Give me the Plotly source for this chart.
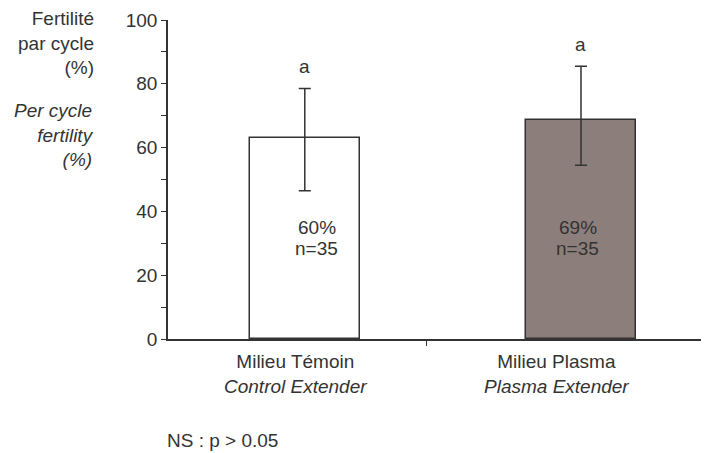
import plotly.graph_objects as go

# ---- data ----
categories = ["Milieu Témoin", "Milieu Plasma"]
categories_en = ["Control Extender", "Plasma Extender"]
fertility = [62.9, 68.6]          # bar heights (%)
err_plus = [15.6, 16.9]
err_minus = [16.4, 14.1]
pct_labels = ["60%", "69%"]
n_labels = ["n=35", "n=35"]
letters = ["a", "a"]

# ---- style / layout constants ----
FONT = "Liberation Sans, Arial, sans-serif"
TXT = "#333333"
cat_pos = [0, 1]
bar_width = 0.42
bar_shift = [0.034, 0.092]       # drawing offset of each bar from its category center
text_shift = 0.08
pct_y, n_y = 34.9, 28.3          # label positions inside bars (axis units)
fills = ["#ffffff", "#8c7e7b"]

# page body adds an 8px margin; plot area designed accordingly
ML, MT, MB = 160, 12, 121.5
W, H = 709, 453
PW = W - ML
PH = H - MT - MB

fig = go.Figure()
fig.add_trace(go.Bar(
    x=cat_pos,
    y=fertility,
    width=bar_width,
    offset=[s - bar_width / 2 for s in bar_shift],
    marker=dict(color=fills, line=dict(color="#333333", width=1.5)),
    error_y=dict(type="data", symmetric=False, array=err_plus, arrayminus=err_minus,
                 color="#333333", thickness=1.5, width=6),
    showlegend=False,
    hoverinfo="skip",
))


def py(pix_y):
    """screenshot pixel y -> paper y"""
    return (MT + PH - (pix_y - 8)) / PH


def px(pix_x):
    return ((pix_x - 8) - ML) / PW


ann = []
for i in range(len(categories)):
    xc = cat_pos[i] + bar_shift[i]
    ann.append(dict(x=xc, y=fertility[i] + err_plus[i], xref="x", yref="y",
                    text=letters[i], showarrow=False, yshift=22,
                    font=dict(family=FONT, size=19, color=TXT)))
    ann.append(dict(x=cat_pos[i] + text_shift, y=pct_y, xref="x", yref="y",
                    text=pct_labels[i], showarrow=False,
                    font=dict(family=FONT, size=19, color=TXT)))
    ann.append(dict(x=cat_pos[i] + text_shift, y=n_y, xref="x", yref="y",
                    text=n_labels[i], showarrow=False,
                    font=dict(family=FONT, size=19, color=TXT)))
    ann.append(dict(x=cat_pos[i], y=py(374.5), xref="x", yref="paper", yanchor="middle",
                    text=categories[i] + "<br><i>" + categories_en[i] + "</i>",
                    showarrow=False, font=dict(family=FONT, size=19, color=TXT)))

ann.append(dict(x=px(96), y=py(43), xref="paper", yref="paper",
                xanchor="right", yanchor="middle", align="right", showarrow=False,
                text="Fertilité<br>par cycle<br>(%)",
                font=dict(family=FONT, size=19, color=TXT)))
ann.append(dict(x=px(96), y=py(135), xref="paper", yref="paper",
                xanchor="right", yanchor="middle", align="right", showarrow=False,
                text="<i>Per cycle<br>fertility<br>(%)</i>",
                font=dict(family=FONT, size=19, color=TXT)))
ann.append(dict(x=px(165), y=py(441), xref="paper", yref="paper",
                xanchor="left", yanchor="middle", showarrow=False,
                text="NS : p > 0.05",
                font=dict(family=FONT, size=19, color=TXT)))

fig.update_layout(
    width=W, height=H,
    margin=dict(l=ML, r=0, t=MT, b=MB, autoexpand=False),
    paper_bgcolor="white", plot_bgcolor="white",
    font=dict(family=FONT, size=19, color=TXT),
    annotations=ann,
    xaxis=dict(range=[-0.49, 1.613], showgrid=False, zeroline=False,
               showline=True, linecolor="#333333", linewidth=1.5,
               tickmode="array", tickvals=[0.5], ticktext=[""],
               ticks="outside", ticklen=5, tickcolor="#333333", tickwidth=1.2),
    yaxis=dict(range=[0, 100], showgrid=False, zeroline=False,
               showline=True, linecolor="#333333", linewidth=1.5,
               tickmode="linear", tick0=0, dtick=20,
               ticks="outside", ticklen=5, tickcolor="#333333", tickwidth=1.2,
               tickfont=dict(family=FONT, size=19, color=TXT),
               ticklabelstandoff=0,
               minor=dict(ticks="outside", ticklen=5, dtick=10, tickcolor="#333333", tickwidth=1.2)),
    bargap=0,
)

fig.write_html("out.html")
